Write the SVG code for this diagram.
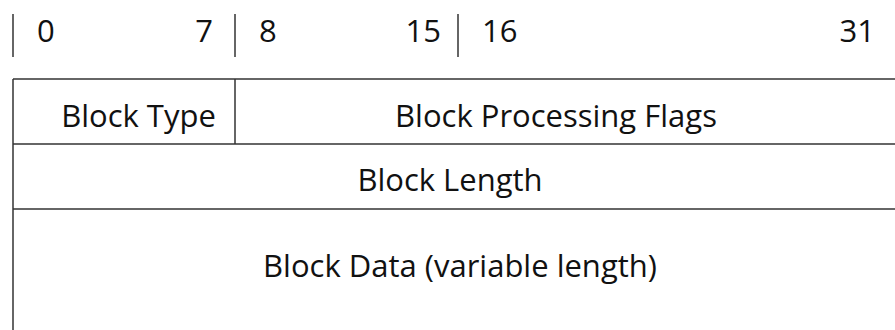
<svg xmlns="http://www.w3.org/2000/svg" width="895" height="330" viewBox="0 0 895 330">
  <style>
    .rule { stroke: #333; stroke-width: 1.5; fill: none; }
    .lbl { font-family: "Open Sans", "Liberation Sans", sans-serif; font-size: 31px; fill: #111; }
  </style>
  <rect width="895" height="330" fill="#fff"/>
  <!-- bit ruler -->
  <g id="ruler">
    <line class="rule" x1="13" y1="14" x2="13" y2="57"/>
    <line class="rule" x1="235" y1="14" x2="235" y2="57"/>
    <line class="rule" x1="458" y1="14" x2="458" y2="57"/>
    <text class="lbl" x="37" y="42">0</text>
    <text class="lbl" x="213" y="42" text-anchor="end">7</text>
    <text class="lbl" x="259" y="42">8</text>
    <text class="lbl" x="441" y="42" text-anchor="end">15</text>
    <text class="lbl" x="482" y="42">16</text>
    <text class="lbl" x="875" y="42" text-anchor="end">31</text>
  </g>
  <!-- field grid -->
  <g id="connectors">
    <line class="rule" x1="13" y1="79" x2="13" y2="330"/>
    <line class="rule" x1="13" y1="79" x2="895" y2="79"/>
    <line class="rule" x1="235" y1="79" x2="235" y2="144"/>
    <line class="rule" x1="13" y1="144" x2="895" y2="144"/>
    <line class="rule" x1="13" y1="209" x2="895" y2="209"/>
  </g>
  <g id="block-type">
    <text class="lbl" x="138.5" y="127" text-anchor="middle">Block Type</text>
  </g>
  <g id="block-flags">
    <text class="lbl" x="556" y="127" text-anchor="middle">Block Processing Flags</text>
  </g>
  <g id="block-length">
    <text class="lbl" x="450" y="191" text-anchor="middle">Block Length</text>
  </g>
  <g id="block-data">
    <text class="lbl" x="460" y="277" text-anchor="middle">Block Data (variable length)</text>
  </g>
</svg>
